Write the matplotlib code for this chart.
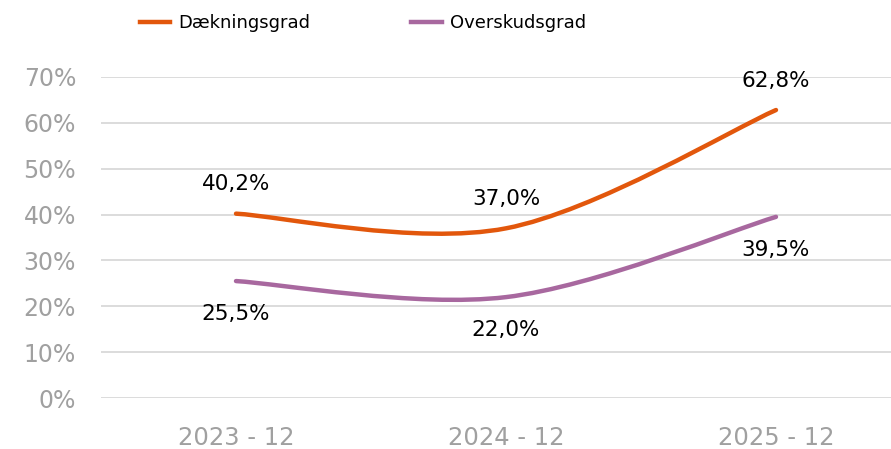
import matplotlib
matplotlib.use("Agg")
import matplotlib.pyplot as plt
from matplotlib.path import Path
from matplotlib.patches import PathPatch
from matplotlib.lines import Line2D

categories = ["2023 - 12", "2024 - 12", "2025 - 12"]
daekningsgrad = [40.2, 37.0, 62.8]
overskudsgrad = [25.5, 22.0, 39.5]
labels_d = ["40,2%", "37,0%", "62,8%"]
labels_o = ["25,5%", "22,0%", "39,5%"]
yticks = [0, 10, 20, 30, 40, 50, 60, 70]
ytick_labels = ["0%", "10%", "20%", "30%", "40%", "50%", "60%", "70%"]

ORANGE = "#E2570C"
PURPLE = "#A8689F"
GRAY = "#A0A0A0"

def smooth_path(xs, ys):
    pts = list(zip(xs, ys))
    n = len(pts)
    verts = [pts[0]]
    codes = [Path.MOVETO]
    for i in range(n - 1):
        p0 = pts[i - 1] if i > 0 else pts[i]
        p1 = pts[i]
        p2 = pts[i + 1]
        p3 = pts[i + 2] if i + 2 < n else pts[i + 1]
        c1 = (p1[0] + (p2[0] - p0[0]) / 6, p1[1] + (p2[1] - p0[1]) / 6)
        c2 = (p2[0] - (p3[0] - p1[0]) / 6, p2[1] - (p3[1] - p1[1]) / 6)
        verts += [c1, c2, p2]
        codes += [Path.CURVE4] * 3
    return Path(verts, codes)

fig = plt.figure(figsize=(8.91, 4.49), dpi=100)
ax = fig.add_axes([101 / 891, 51 / 449, 810 / 891, 321 / 449])
ax.set_xlim(-0.5, 2.5)
ax.set_ylim(0, 70)

xs = list(range(len(categories)))
for vals, col in [(daekningsgrad, ORANGE), (overskudsgrad, PURPLE)]:
    patch = PathPatch(smooth_path(xs, vals), facecolor="none", edgecolor=col,
                      lw=3.2, capstyle="round", joinstyle="round", zorder=3)
    ax.add_patch(patch)

for x, v, t in zip(xs, daekningsgrad, labels_d):
    ax.annotate(t, (x, v), xytext=(0, 21), textcoords="offset points",
                ha="center", va="center", fontsize=15.5, color="black")
for x, v, t in zip(xs, overskudsgrad, labels_o):
    ax.annotate(t, (x, v), xytext=(0, -23.5), textcoords="offset points",
                ha="center", va="center", fontsize=15.5, color="black")

ax.set_yticks(yticks)
ax.set_yticklabels(ytick_labels)
ax.set_xticks(xs)
ax.set_xticklabels(categories)
ax.tick_params(axis="y", length=0, pad=18, labelsize=17, labelcolor=GRAY)
ax.tick_params(axis="x", length=0, pad=20, labelsize=17.5, labelcolor=GRAY)
ax.grid(axis="y", color="#D9D9D9", lw=1.3)
ax.set_axisbelow(True)
for s in ax.spines.values():
    s.set_visible(False)

handles = [Line2D([], [], color=ORANGE, lw=3.2),
           Line2D([], [], color=PURPLE, lw=3.2)]
fig.legend(handles, ["Dækningsgrad", "Overskudsgrad"], ncol=2,
           loc="center left", bbox_to_anchor=(140 / 891, 1 - 23 / 449),
           frameon=False, fontsize=13, handlelength=1.67, handletextpad=0.45,
           columnspacing=5.6, borderpad=0, borderaxespad=0)

fig.savefig("out.png", dpi=100)
